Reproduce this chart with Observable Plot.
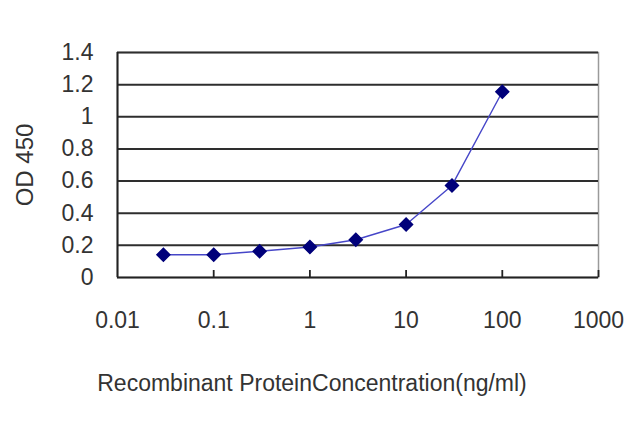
<!DOCTYPE html>
<html>
<head>
<meta charset="utf-8">
<script src="https://cdn.jsdelivr.net/npm/d3@7"></script>
<script src="https://cdn.jsdelivr.net/npm/@observablehq/plot@0.6"></script>
<style>
  html, body { margin: 0; padding: 0; background: #fff; }
  svg { display: block; }
</style>
</head>
<body>
<div id="chart"></div>
<script>
const concentrations = [0.03, 0.1, 0.3, 1, 3, 10, 30, 100];
const odValues = [0.142, 0.142, 0.163, 0.19, 0.235, 0.33, 0.573, 1.156];
const xTicks = [0.01, 0.1, 1, 10, 100, 1000];
const xTickLabels = ["0.01", "0.1", "1", "10", "100", "1000"];
const yTicks = [0, 0.2, 0.4, 0.6, 0.8, 1, 1.2, 1.4];
const yTickLabels = ["0", "0.2", "0.4", "0.6", "0.8", "1", "1.2", "1.4"];
const xTitle = "Recombinant ProteinConcentration(ng/ml)";
const yTitle = "OD 450";

const data = concentrations.map((c, i) => ({c, od: odValues[i]}));
const font = "'Liberation Sans', Arial, sans-serif";

const chart = Plot.plot({
  width: 640,
  height: 427,
  marginLeft: 117,
  marginRight: 42,
  marginTop: 52,
  marginBottom: 150,
  style: {fontFamily: font, background: "#fff"},
  x: {type: "log", domain: [0.01, 1000]},
  y: {domain: [0, 1.4]},
  marks: [
    Plot.frame({stroke: "#9a9a9a", strokeWidth: 1.5}),
    Plot.ruleY(yTicks.filter(v => v > 0), {stroke: "#2e2e2e", strokeWidth: 2}),
    Plot.ruleY([0], {stroke: "#222", strokeWidth: 2}),
    Plot.ruleX([0.01], {stroke: "#222", strokeWidth: 2}),
    Plot.axisX({
      ticks: xTicks,
      tickFormat: (d) => xTickLabels[xTicks.indexOf(d)],
      tickSize: 0,
      tickPadding: 34,
      fontSize: 23,
      label: null,
      fill: "#333"
    }),
    Plot.axisX({
      ticks: xTicks.slice(1),
      tickFormat: () => "",
      tickSize: 7,
      dy: -7,
      label: null,
      stroke: "#222",
      strokeWidth: 1.8
    }),
    Plot.axisY({
      ticks: yTicks,
      tickFormat: d => yTickLabels[yTicks.indexOf(d)],
      tickSize: 0,
      tickPadding: 24,
      fontSize: 23,
      label: null,
      fill: "#333"
    }),
    Plot.line(data, {x: "c", y: "od", stroke: "#4646c8", strokeWidth: 1.4}),
    Plot.dot(data, {x: "c", y: "od", symbol: "diamond2", r: 5.8, fill: "#00007a", stroke: "#00007a"}),
    Plot.text([yTitle], {frameAnchor: "left", rotate: -90, dx: -92, textAnchor: "middle", fontSize: 24, fill: "#333", style: "letter-spacing:2px"}),
    Plot.text([xTitle], {frameAnchor: "bottom", dx: -46, dy: 113, textAnchor: "middle", fontSize: 23, fill: "#333"})
  ]
});
document.getElementById("chart").appendChild(chart);
</script>
</body>
</html>
